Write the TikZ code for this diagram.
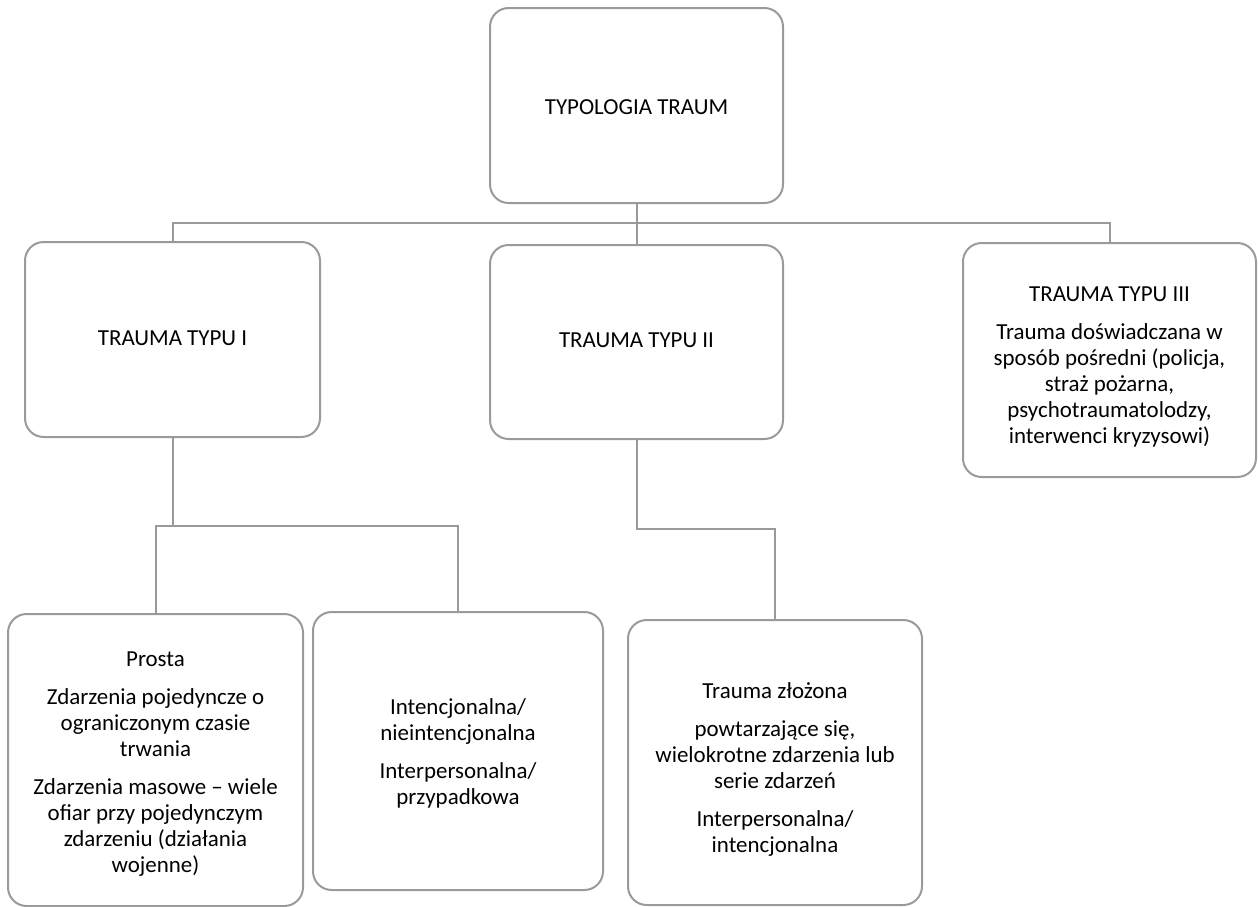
\documentclass[tikz,border=0pt]{standalone}
\usepackage{fontspec}
\setmainfont{Carlito}
\begin{document}
\begin{tikzpicture}[x=0.75pt,y=-0.75pt,
  boxstyle/.style={draw=linegray, line width=1.5pt, rounded corners=14pt, inner sep=0pt},
  txt/.style={align=center, inner sep=0pt, font=\fontsize{17.2}{19.5}\selectfont, text=black},
  conn/.style={draw=linegray, line width=1.5pt}]
\definecolor{linegray}{HTML}{9A9A9A}
\useasboundingbox (0,0) rectangle (1258,907);
\node[boxstyle, minimum width=219.75pt, minimum height=146.25pt] (top) at (636.5,105.5) {};
\node[boxstyle, minimum width=221.25pt, minimum height=146.25pt] (I) at (172.5,339.5) {};
\node[boxstyle, minimum width=219.75pt, minimum height=145.5pt] (II) at (636.5,342) {};
\node[boxstyle, minimum width=219.75pt, minimum height=175.5pt] (III) at (1109.5,360) {};
\node[boxstyle, minimum width=221.25pt, minimum height=219pt] (P) at (155.5,760) {};
\node[boxstyle, minimum width=217.5pt, minimum height=208.5pt] (Int) at (458,751) {};
\node[boxstyle, minimum width=220.5pt, minimum height=213.75pt] (Z) at (775,762.5) {};
\node[txt] (topt) at ([yshift=-1pt]top.center) {TYPOLOGIA TRAUM};
\node[txt] (It) at ([yshift=1pt]I.center) {TRAUMA TYPU I};
\node[txt] (IIt) at ([yshift=1pt]II.center) {TRAUMA TYPU II};
\node[txt] (IIIt) at ([yshift=-5pt]III.center)
  {TRAUMA TYPU III\\[9pt]Trauma doświadczana w\\sposób pośredni (policja,\\straż pożarna,\\psychotraumatolodzy,\\interwenci kryzysowi)};
\node[txt] (Pt) at ([yshift=-3pt]P.center)
  {Prosta\\[9pt]Zdarzenia pojedyncze o\\ograniczonym czasie\\trwania\\[9pt]Zdarzenia masowe – wiele\\ofiar przy pojedynczym\\zdarzeniu (działania\\wojenne)};
\node[txt] (Intt) at ([yshift=-2pt]Int.center)
  {Intencjonalna/\\nieintencjonalna\\[9pt]Interpersonalna/\\przypadkowa};
\node[txt] (Zt) at ([yshift=-5pt]Z.center)
  {Trauma złożona\\[9pt]powtarzające się,\\wielokrotne zdarzenia lub\\serie zdarzeń\\[9pt]Interpersonalna/\\intencjonalna};
\coordinate (bar) at (636.5,223);
\coordinate (b1) at (172.5,526);
\coordinate (b2) at (636.5,529);
\draw[conn] (top.south) -- (II.north);
\draw[conn] (I.north) |- (bar) -| (III.north);
\draw[conn] (I.south) -- (b1);
\draw[conn] (P.north) |- (b1) -| (Int.north);
\draw[conn] (II.south) -- (b2) -| (Z.north);
\end{tikzpicture}
\end{document}
